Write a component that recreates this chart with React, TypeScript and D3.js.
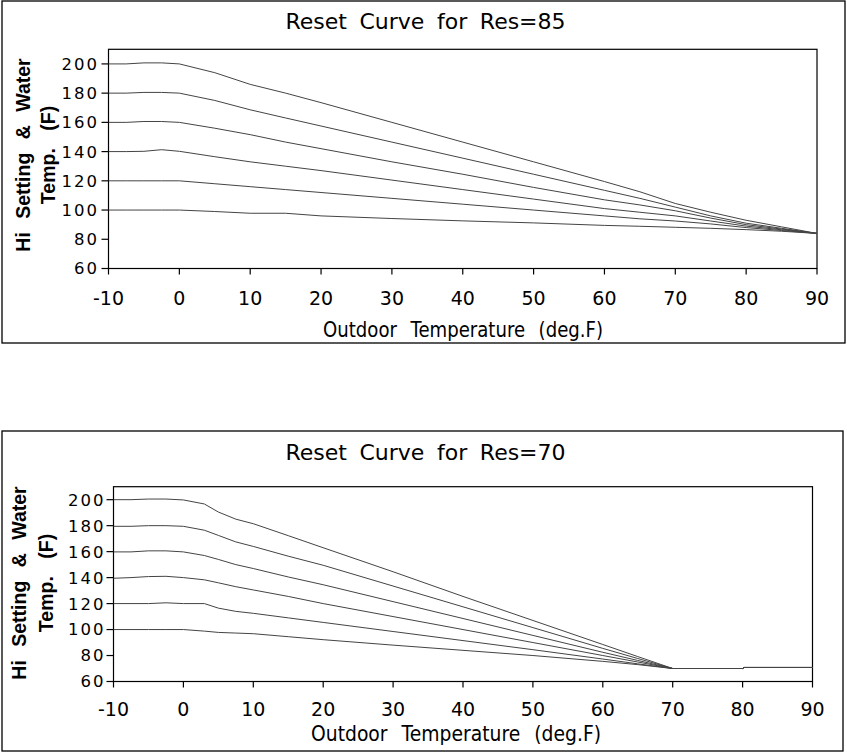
import React from 'react';
import * as d3 from 'd3';

// ─── data ────────────────────────────────────────────────────────────────

const X_TICKS = [-10, 0, 10, 20, 30, 40, 50, 60, 70, 80, 90];
const Y_TICKS = [60, 80, 100, 120, 140, 160, 180, 200];

// Res=85
const RES85_X = [-10, -7.5, -5, -2.5, 0, 5, 10, 15, 20, 30, 40, 50, 60, 65, 70, 75, 80, 85, 90];
const RES85_200 = [200, 200, 200.7, 200.7, 200, 194, 186, 180, 173.5, 160, 146.5, 133, 119.5, 112.5, 104.5, 98.5, 93, 88.5, 84];
const RES85_180 = [180, 180, 180.5, 180.5, 180, 175, 168.6, 163, 157.5, 146.5, 135.5, 124.5, 113.5, 108, 102, 96, 91, 87.5, 84];
const RES85_160 = [160, 160, 160.6, 160.6, 160, 156, 151.6, 146.5, 142, 133, 124.5, 115.5, 107, 103.5, 99.5, 94.5, 90, 87, 84];
const RES85_140 = [140, 140, 140.2, 141.3, 140.2, 136.5, 133, 130, 127, 120.5, 114, 107.5, 101, 98.5, 96, 92.5, 89, 86.5, 84];
const RES85_120 = [120, 120, 120, 120, 120, 118, 116, 114, 112, 108, 104, 100, 96, 94, 92.5, 90.5, 88, 86, 84];
const RES85_100 = [100, 100, 100, 100, 100, 99, 97.8, 97.8, 96, 94.2, 92.6, 91.2, 89.5, 88.9, 88.2, 87.5, 86.6, 85.5, 84];

// Res=70
const RES70_X = [-10, -7.5, -5, -2.5, 0, 3, 5, 7.5, 10, 15, 20, 30, 40, 50, 60, 65, 70, 80, 80.2, 90];
const RES70_200 = [200, 200, 200.5, 200.5, 199.8, 196.7, 190.5, 185, 181.5, 172.3, 163, 144.5, 125.5, 107, 88.5, 79.2, 70, 70, 70.8, 70.8];
const RES70_180 = [179.5, 179.5, 180, 180, 179.5, 176.5, 172.5, 167.5, 164, 156.5, 149.5, 133.5, 117.5, 101.5, 85.5, 77.7, 70, 70, 70.8, 70.8];
const RES70_160 = [159.8, 159.8, 160.6, 160.6, 159.8, 157, 154, 150, 147, 140.5, 134.5, 121.5, 108.5, 95.5, 82.5, 76.2, 70, 70, 70.8, 70.8];
const RES70_140 = [139.5, 140, 140.8, 141, 140, 138.3, 136, 133, 130.5, 125.5, 120, 110, 100, 90, 80, 75, 70, 70, 70.8, 70.8];
const RES70_120 = [120, 120, 120, 120.6, 120, 120, 116.5, 114, 112.5, 109, 105.5, 98.5, 91.5, 84.5, 77.3, 73.6, 70, 70, 70.8, 70.8];
const RES70_100 = [100, 100, 100, 100, 100, 98.8, 97.8, 97.3, 96.8, 94.5, 92.2, 88, 84, 80, 75.5, 73, 70, 70, 70.8, 70.8];

// ─── chart ───────────────────────────────────────────────────────────────

const SANS = '"DejaVu Sans", Verdana, sans-serif';
const BOLD = '"Liberation Sans", Arial, sans-serif';

interface Layout {
  box: { x: number; y: number; w: number; h: number };
  plot: { left: number; right: number; top: number; bottom: number };
  titleY: number;
  xLabelX: number;
  xLabelY: number;
  xLabelW: number;
  xTickY: number;
  yTickX: number;
  yLab1X: number;
  yLab2X: number;
  yLabY: number;
}

interface ChartProps {
  title: string;
  xs: number[];
  series: number[][];
  L: Layout;
}

const Chart: React.FC<ChartProps> = ({ title, xs, series, L }) => {
  const { plot } = L;
  const x = d3.scaleLinear().domain([-10, 90]).range([plot.left, plot.right]);
  const y = d3.scaleLinear().domain([60, 210]).range([plot.bottom, plot.top]);
  const line = d3
    .line<number>()
    .x((_, i) => x(xs[i]))
    .y(d => y(d));

  return (
    <g>
      <rect x={L.box.x} y={L.box.y} width={L.box.w} height={L.box.h} fill="none" stroke="#000" strokeWidth={1.3} />
      <text x={425.5} y={L.titleY} textAnchor="middle" fontFamily={SANS} fontSize={22} wordSpacing={5.6}>
        {title}
      </text>

      <rect
        x={plot.left}
        y={plot.top}
        width={plot.right - plot.left}
        height={plot.bottom - plot.top}
        fill="none"
        stroke="#000"
        strokeWidth={1.2}
      />

      {series.map((s, i) => (
        <path key={i} d={line(s) ?? undefined} fill="none" stroke="#444" strokeWidth={1} />
      ))}

      {Y_TICKS.map(t => (
        <g key={t}>
          <line x1={plot.left - 7} x2={plot.left} y1={y(t)} y2={y(t)} stroke="#000" strokeWidth={1.2} />
          <text
            x={L.yTickX}
            y={y(t)}
            dy="0.36em"
            textAnchor="end"
            fontFamily={SANS}
            fontSize={16.5}
            letterSpacing={2}
          >
            {t}
          </text>
        </g>
      ))}

      {X_TICKS.map(t => (
        <g key={t}>
          <line x1={x(t)} x2={x(t)} y1={plot.bottom} y2={plot.bottom + 6} stroke="#000" strokeWidth={1.2} />
          <text x={x(t)} y={L.xTickY} textAnchor="middle" fontFamily={SANS} fontSize={19}>
            {t}
          </text>
        </g>
      ))}

      <text
        x={L.xLabelX}
        y={L.xLabelY}
        fontFamily={SANS}
        fontSize={21}
        wordSpacing={9}
        textLength={L.xLabelW}
        lengthAdjust="spacingAndGlyphs"
      >
        Outdoor Temperature (deg.F)
      </text>

      <text
        transform={`translate(${L.yLab1X},${L.yLabY}) rotate(-90)`}
        textAnchor="middle"
        fontFamily={BOLD}
        fontWeight="bold"
        fontSize={19.5}
        wordSpacing={8}
      >
        Hi Setting &amp; Water
      </text>
      <text
        transform={`translate(${L.yLab2X},${L.yLabY}) rotate(-90)`}
        textAnchor="middle"
        fontFamily={BOLD}
        fontWeight="bold"
        fontSize={19.5}
        wordSpacing={12}
      >
        Temp. (F)
      </text>
    </g>
  );
};

const TOP: Layout = {
  box: { x: 2, y: 1, w: 843, h: 342 },
  plot: { left: 108.5, right: 817, top: 49.3, bottom: 268.5 },
  titleY: 29.3,
  xLabelX: 323,
  xLabelY: 337,
  xLabelW: 280,
  xTickY: 305,
  yTickX: 99,
  yLab1X: 30,
  yLab2X: 55,
  yLabY: 155,
};

const BOTTOM: Layout = {
  box: { x: 2, y: 431, w: 841, h: 320 },
  plot: { left: 113.5, right: 812.5, top: 486.7, bottom: 681.5 },
  titleY: 460,
  xLabelX: 311,
  xLabelY: 740.5,
  xLabelW: 290,
  xTickY: 716,
  yTickX: 105.5,
  yLab1X: 26,
  yLab2X: 53,
  yLabY: 583,
};

export default function App() {
  return (
    <svg
      width={847}
      height={753}
      style={{ position: 'absolute', left: 0, top: 0, background: '#fff' }}
    >
      <Chart
        title="Reset Curve for Res=85"
        xs={RES85_X}
        series={[RES85_200, RES85_180, RES85_160, RES85_140, RES85_120, RES85_100]}
        L={TOP}
      />
      <Chart
        title="Reset Curve for Res=70"
        xs={RES70_X}
        series={[RES70_200, RES70_180, RES70_160, RES70_140, RES70_120, RES70_100]}
        L={BOTTOM}
      />
    </svg>
  );
}
